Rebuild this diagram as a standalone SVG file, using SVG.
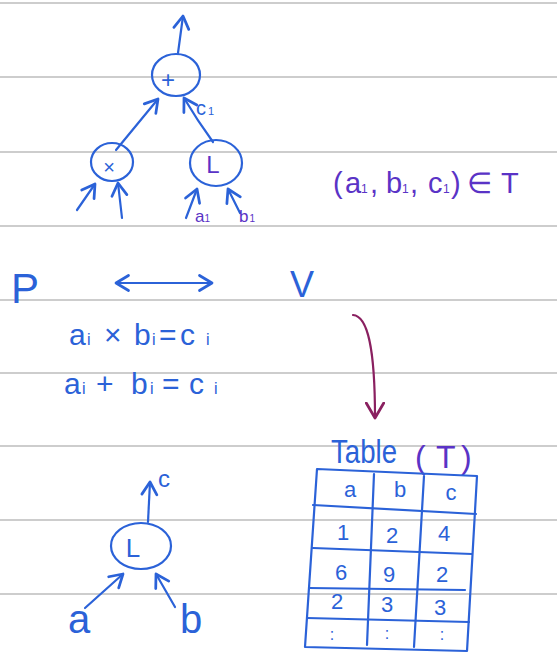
<svg xmlns="http://www.w3.org/2000/svg" width="557" height="663" viewBox="0 0 557 663">
<style>
.rule{stroke:#cdcdcd;stroke-width:2}
.ink{fill:none;stroke:#2b62d8;stroke-width:2.2;stroke-linecap:round;stroke-linejoin:round}
.red{fill:none;stroke:#8a2060;stroke-width:2.2;stroke-linecap:round}
.t{font-family:"Liberation Sans",Arial,sans-serif;fill:#2b62d8}
.p{font-family:"Liberation Sans",Arial,sans-serif;fill:#5a33c6}
</style>
<defs>
<marker id="ah" markerUnits="userSpaceOnUse" markerWidth="20" markerHeight="20" viewBox="-12 -8 14 16" refX="0" refY="0" orient="auto-start-reverse">
<path d="M-10,-6 L0,0 L-10,6" fill="none" stroke="#2b62d8" stroke-width="2.2" stroke-linecap="round" stroke-linejoin="round"/>
</marker>
<marker id="ahr" markerUnits="userSpaceOnUse" markerWidth="20" markerHeight="20" viewBox="-12 -8 14 16" refX="0" refY="0" orient="auto">
<path d="M-12,-7 L0,0 L-12,7" fill="none" stroke="#8a2060" stroke-width="2.2" stroke-linecap="round" stroke-linejoin="round"/>
</marker>
</defs>
<rect width="557" height="663" fill="#ffffff"/>
<g id="paper">
<line class="rule" x1="0" y1="3" x2="557" y2="3"/>
<line class="rule" x1="0" y1="77" x2="557" y2="77"/>
<line class="rule" x1="0" y1="152" x2="557" y2="152"/>
<line class="rule" x1="0" y1="226" x2="557" y2="226"/>
<line class="rule" x1="0" y1="300" x2="557" y2="300"/>
<line class="rule" x1="0" y1="373" x2="557" y2="373"/>
<line class="rule" x1="0" y1="446" x2="557" y2="446"/>
<line class="rule" x1="0" y1="520" x2="557" y2="520"/>
<line class="rule" x1="0" y1="594" x2="557" y2="594"/>
</g>
<g id="connectors">
<line class="ink" x1="178" y1="53" x2="183" y2="16" marker-end="url(#ah)"/>
<line class="ink" x1="116" y1="150" x2="158" y2="99" marker-end="url(#ah)"/>
<path class="ink" d="M213,142 Q197,120 184,98" marker-end="url(#ah)"/>
<line class="ink" x1="77" y1="210" x2="95" y2="184" marker-end="url(#ah)"/>
<line class="ink" x1="122" y1="218" x2="118" y2="183" marker-end="url(#ah)"/>
<line class="ink" x1="186" y1="218" x2="197" y2="189" marker-end="url(#ah)"/>
<line class="ink" x1="240" y1="213" x2="228" y2="189" marker-end="url(#ah)"/>
<line class="ink" x1="116" y1="283" x2="212" y2="283" marker-start="url(#ah)" marker-end="url(#ah)"/>
<path class="red" d="M353,315 C367,316 375,345 375,418" marker-end="url(#ahr)"/>
<line class="ink" x1="148" y1="522" x2="150" y2="482" marker-end="url(#ah)"/>
<line class="ink" x1="85" y1="608" x2="123" y2="574" marker-end="url(#ah)"/>
<line class="ink" x1="175" y1="607" x2="156" y2="574" marker-end="url(#ah)"/>
</g>
<g id="node-plus">
<ellipse class="ink" cx="176" cy="75" rx="24" ry="21"/>
<text class="t" x="168" y="88" font-size="24" text-anchor="middle">+</text>
</g>
<g id="node-times">
<ellipse class="ink" cx="112" cy="162" rx="21" ry="19"/>
<text class="t" x="109" y="174" font-size="20" text-anchor="middle">×</text>
</g>
<g id="node-L-top">
<ellipse class="ink" cx="216" cy="163" rx="26" ry="23"/>
<text class="p" x="213" y="173" font-size="24" text-anchor="middle">L</text>
</g>
<g id="label-c1">
<text class="t" x="196" y="115" font-size="20">c<tspan font-size="11" dx="2">1</tspan></text>
</g>
<g id="label-a1b1">
<text class="p" x="195" y="222" font-size="17">a<tspan font-size="10">1</tspan></text>
<text class="p" x="239" y="222" font-size="17">b<tspan font-size="10" dx="1">1</tspan></text>
</g>
<g id="membership">
<text class="p" font-size="29" y="193"><tspan x="333">(</tspan><tspan x="345">a</tspan><tspan x="361" font-size="12">1</tspan><tspan x="370">,</tspan><tspan x="386">b</tspan><tspan x="402" font-size="12">1</tspan><tspan x="410">,</tspan><tspan x="428">c</tspan><tspan x="443" font-size="12">1</tspan><tspan x="451">)</tspan><tspan x="467">∈</tspan><tspan x="501">T</tspan></text>
</g>
<g id="P-V">
<text class="t" x="11" y="303" font-size="42">P</text>
<text class="t" x="290" y="297" font-size="36">V</text>
</g>
<g id="formulas">
<text class="t" font-size="30" y="345"><tspan x="69">a</tspan><tspan x="87" font-size="16">i</tspan><tspan x="104">×</tspan><tspan x="134">b</tspan><tspan x="152" font-size="16">i</tspan><tspan x="159">=</tspan><tspan x="180">c</tspan><tspan x="206" font-size="16">i</tspan></text>
<text class="t" font-size="30" y="394"><tspan x="64">a</tspan><tspan x="82" font-size="16">i</tspan><tspan x="96">+</tspan><tspan x="131">b</tspan><tspan x="150" font-size="16">i</tspan><tspan x="162">=</tspan><tspan x="189">c</tspan><tspan x="214" font-size="16">i</tspan></text>
</g>
<g id="table">
<text class="t" x="331" y="463" font-size="34" textLength="66" lengthAdjust="spacingAndGlyphs">Table</text>
<text class="p" font-size="32" y="468"><tspan x="415">(</tspan><tspan x="436">T</tspan><tspan x="461">)</tspan></text>
<path class="ink" d="M317,469 L477,476 L467,651 L305,647 Z"/>
<line class="ink" x1="374" y1="474" x2="367" y2="645"/>
<line class="ink" x1="424" y1="476" x2="414" y2="647"/>
<line class="ink" x1="313" y1="505" x2="476" y2="514"/>
<line class="ink" x1="313" y1="548" x2="472" y2="554"/>
<line class="ink" x1="309" y1="588" x2="465" y2="590"/>
<line class="ink" x1="307" y1="618" x2="469" y2="622"/>
<g font-size="22" text-anchor="middle">
<text class="t" x="350" y="497">a</text>
<text class="t" x="400" y="497">b</text>
<text class="t" x="451" y="500">c</text>
<text class="t" x="343" y="540">1</text>
<text class="t" x="392" y="543">2</text>
<text class="t" x="444" y="541">4</text>
<text class="t" x="341" y="580">6</text>
<text class="t" x="389" y="582">9</text>
<text class="t" x="442" y="582">2</text>
<text class="t" x="337" y="609">2</text>
<text class="t" x="387" y="612">3</text>
<text class="t" x="440" y="615">3</text>
<text class="t" x="332" y="640" font-size="16">:</text>
<text class="t" x="387" y="639" font-size="16">:</text>
<text class="t" x="442" y="640" font-size="16">:</text>
</g>
</g>
<g id="node-L-bottom">
<ellipse class="ink" cx="141" cy="546" rx="30" ry="23"/>
<text class="t" x="133" y="557" font-size="26" text-anchor="middle">L</text>
</g>
<g id="labels-bottom">
<text class="t" x="158" y="487" font-size="24">c</text>
<text class="t" x="68" y="633" font-size="40">a</text>
<text class="t" x="180" y="633" font-size="40">b</text>
</g>
</svg>
